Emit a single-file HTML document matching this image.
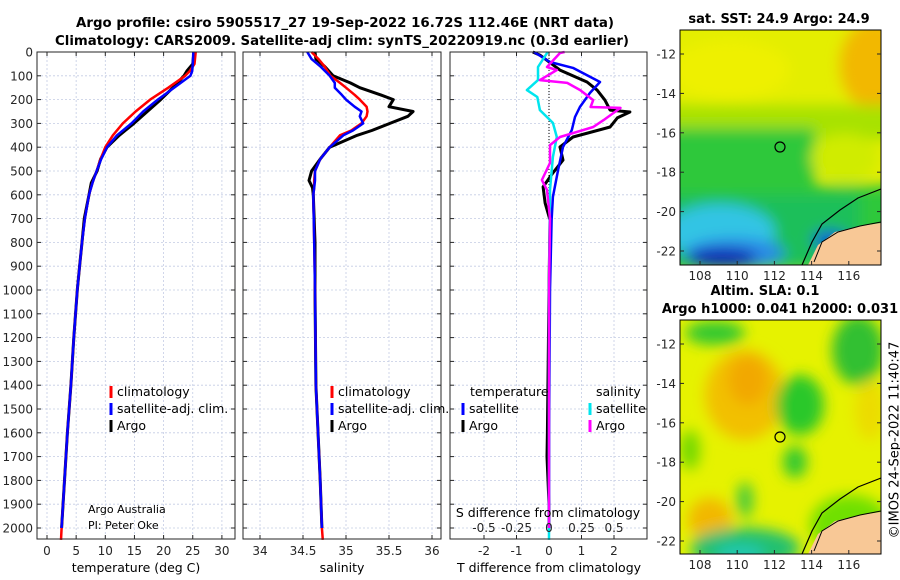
<!DOCTYPE html>
<html><head><meta charset="utf-8">
<style>
html,body{margin:0;padding:0;background:#fff;}
svg{display:block;font-family:"DejaVu Sans","Liberation Sans",sans-serif;}
.tk{font-size:12px;fill:#262626;}
.lg{font-size:12.5px;fill:#000;}
.ttl{font-size:13px;font-weight:bold;fill:#000;}
</style></head>
<body>
<svg id="fig" width="900" height="580" viewBox="0 0 900 580" xmlns="http://www.w3.org/2000/svg">
<defs>
<filter id="blur6" x="-20%" y="-20%" width="140%" height="140%"><feGaussianBlur stdDeviation="7"/></filter>
<clipPath id="clipM1"><rect x="680" y="30" width="201" height="235"/></clipPath>
<clipPath id="clipM2"><rect x="680" y="320" width="201" height="234"/></clipPath>
</defs>
<text class="ttl" x="345" y="27" text-anchor="middle" textLength="538" lengthAdjust="spacingAndGlyphs">Argo profile: csiro 5905517_27 19-Sep-2022 16.72S 112.46E (NRT data)</text>
<text class="ttl" x="342" y="45" text-anchor="middle" textLength="574" lengthAdjust="spacingAndGlyphs">Climatology: CARS2009. Satellite-adj clim: synTS_20220919.nc (0.3d earlier)</text>
<g id="panels"></g>

<g>
<text class="ttl" x="779" y="23" text-anchor="middle">sat. SST: 24.9 Argo: 24.9</text>
<g clip-path="url(#clipM1)">
<rect x="680" y="30" width="201" height="235" fill="#e4ee00"/>
<g filter="url(#blur6)">
<ellipse cx="875" cy="65" rx="35" ry="45" fill="#f2b800"/>
<ellipse cx="730" cy="70" rx="60" ry="30" fill="#eef000"/>
<rect x="660" y="105" width="240" height="35" fill="#a8e200"/>
<rect x="660" y="128" width="155" height="80" fill="#2ec83a"/>
<rect x="810" y="185" width="90" height="55" fill="#2ec83a"/>
<ellipse cx="845" cy="158" rx="34" ry="24" fill="#d0ec00"/>
<rect x="660" y="195" width="200" height="75" fill="#1cbf5a"/>
<ellipse cx="720" cy="232" rx="55" ry="28" fill="#30c4e4"/>
<ellipse cx="735" cy="253" rx="50" ry="15" fill="#2a8ae6"/>
<ellipse cx="722" cy="258" rx="35" ry="10" fill="#1024b0"/>
<ellipse cx="830" cy="240" rx="18" ry="10" fill="#1060d0"/>
</g>
<polygon points="808,265 818,245 835,232 860,226 881,223 881,265" fill="#f8c896"/>
<polyline points="802,265 812,242 822,224 840,210 858,198 881,189" fill="none" stroke="#000" stroke-width="1.2"/>
<polyline points="814,262 822,242 838,232 860,226 881,222" fill="none" stroke="#000" stroke-width="1"/>
</g>
<rect x="680" y="30" width="201" height="235" fill="none" stroke="#000" stroke-width="1"/>
<circle cx="780" cy="147" r="5" fill="none" stroke="#000" stroke-width="1.2"/>
<g id="m1ticks"></g>
</g>

<g>
<text class="ttl" x="765" y="295" text-anchor="middle">Altim. SLA: 0.1</text>
<text class="ttl" x="780" y="313" text-anchor="middle">Argo h1000: 0.041 h2000: 0.031</text>
<g clip-path="url(#clipM2)">
<rect x="680" y="320" width="201" height="234" fill="#e6f200"/>
<g filter="url(#blur6)">
<ellipse cx="745" cy="395" rx="40" ry="45" fill="#f2c000"/>
<ellipse cx="748" cy="380" rx="20" ry="25" fill="#f2a800"/>
<ellipse cx="715" cy="333" rx="30" ry="12" fill="#30c830"/>
<ellipse cx="858" cy="350" rx="26" ry="35" fill="#30c030"/>
<ellipse cx="870" cy="410" rx="15" ry="30" fill="#ecdc00"/>
<ellipse cx="800" cy="405" rx="24" ry="30" fill="#2cc82c"/>
<ellipse cx="795" cy="462" rx="12" ry="16" fill="#30c830"/>
<ellipse cx="710" cy="520" rx="22" ry="22" fill="#f2b800"/>
<ellipse cx="745" cy="548" rx="55" ry="20" fill="#20c070"/>
<ellipse cx="740" cy="554" rx="25" ry="10" fill="#20c8b0"/>
<ellipse cx="745" cy="500" rx="8" ry="18" fill="#40c840"/>
<ellipse cx="850" cy="525" rx="40" ry="30" fill="#70e000"/>
<ellipse cx="690" cy="450" rx="10" ry="20" fill="#70d800"/>
</g>
<polygon points="808,554 818,534 835,521 860,515 881,512 881,554" fill="#f8c896"/>
<polyline points="802,554 812,531 822,513 840,499 858,487 881,478" fill="none" stroke="#000" stroke-width="1.2"/>
<polyline points="814,551 822,531 838,521 860,515 881,511" fill="none" stroke="#000" stroke-width="1"/>
</g>
<rect x="680" y="320" width="201" height="234" fill="none" stroke="#000" stroke-width="1"/>
<circle cx="780" cy="437" r="5" fill="none" stroke="#000" stroke-width="1.2"/>
<g id="m2ticks"></g>
</g>
<text x="895" y="440" transform="rotate(-90 895 440)" text-anchor="middle" dominant-baseline="middle" style="font-size:13px" fill="#000">©IMOS 24-Sep-2022 11:40:47</text>
</svg>
<script>
const depthTicks = [0,100,200,300,400,500,600,700,800,900,1000,1100,1200,1300,1400,1500,1600,1700,1800,1900,2000];
const tempTicks = [0,5,10,15,20,25,30];
const salTicks = [34,34.5,35,35.5,36];
const salTickLabels = ["34","34.5","35","35.5","36"];
const tdiffTicks = [-2,-1,0,1,2];
const sdiffTicks = [-0.5,-0.25,0,0.25,0.5];
const sdiffTickLabels = ["-0.5","-0.25","0","0.25","0.5"];

const depthT = [0,50,80,100,150,200,250,300,350,400,450,500,550,600,700,800,900,1000,1200,1400,1600,1800,2000,2050];
const climTemp = [25.5,25.3,24.5,23.7,20.8,17.7,15.2,13.0,11.3,10.0,9.2,8.5,7.8,7.2,6.5,6.0,5.6,5.2,4.6,4.1,3.5,3.0,2.5,2.4];
const satTemp = [25.1,25.0,24.9,24.6,21.8,19.0,16.5,14.5,12.0,10.3,9.3,8.5,7.8,7.2,6.5,6.0,5.6,5.2,4.6,4.1,3.5,3.0,2.5,null];
const argoTemp = [25.2,25.0,24.0,23.5,21.6,19.5,17.2,14.9,12.4,10.3,9.2,8.6,7.6,7.2,6.4,6.0,5.6,5.2,4.6,4.1,3.5,3.0,2.5,null];

const depthS = [0,30,60,100,130,150,180,200,230,250,270,300,330,350,400,450,500,540,570,600,800,1000,1400,1800,2000,2050];
const climSal = [34.6,34.68,34.75,34.82,34.93,35.0,35.1,35.16,35.24,35.25,35.24,35.18,35.06,34.93,34.81,34.7,34.64,34.63,34.63,34.62,34.63,34.64,34.65,34.7,34.72,34.73];
const satSal = [34.55,34.6,34.7,34.81,34.87,34.87,34.95,35.0,35.1,35.18,35.16,35.2,35.08,34.97,34.81,34.7,34.64,34.64,34.63,34.62,34.63,34.64,34.65,34.7,34.72,null];
const argoSal = [34.64,34.65,34.75,34.85,35.05,35.16,35.4,35.55,35.5,35.78,35.72,35.51,35.3,35.13,34.81,34.7,34.6,34.57,34.61,34.62,34.64,34.64,34.65,34.7,34.72,null];

const depthSatTD = [0,42,67,126,172,231,273,328,399,496,609,706,1000,1500,2000];
const satTDiff = [-0.46,0.03,0.74,1.57,1.26,0.95,0.8,0.7,0.43,0.28,0.12,0.08,0.03,0.01,0];
const depthArgoTD = [0,13,76,126,160,202,244,252,277,315,357,399,454,508,567,634,706,1000,1600,1700,1800,1900,2000];
const argoTDiff = [-0.5,-0.28,0.34,1.17,1.48,1.72,1.88,2.49,2.1,1.88,0.74,0.34,0.43,0.12,-0.18,-0.12,0.03,0.0,-0.05,-0.06,-0.03,0,0];
const depthSatSD = [0,63,118,160,189,244,298,357,441,580,1000,2000,2050];
const satSDiff = [-0.01,-0.085,-0.085,-0.17,-0.09,-0.07,0.03,0.06,0.03,0.008,0,0,0];
const depthArgoSD = [0,4,63,76,118,130,160,202,231,235,286,315,357,391,466,538,580,700,1000,2000];
const argoSDiff = [0.12,0.085,-0.015,0.06,-0.07,0.14,0.24,0.34,0.32,0.55,0.42,0.34,0.085,0.008,0.008,-0.055,-0.015,0.008,0,0];

const mapLatTicks = [-12,-14,-16,-18,-20,-22];
const mapLonTicks = [108,110,112,114,116];

const TOP=52, BOT=539;
const yD = d => TOP + d*0.238;
const xT = v => 47 + v*5.83;
const xS = v => 260 + (v-34)*86;
const xDT = v => 549 + v*32.5;
const xDS = v => 549 + v*130;
const NS='http://www.w3.org/2000/svg';
const root=document.getElementById('panels');
function el(tag,attrs,parent){const e=document.createElementNS(NS,tag);for(const k in attrs)e.setAttribute(k,attrs[k]);(parent||root).appendChild(e);return e;}
function txt(s,attrs,parent){const e=el('text',attrs,parent);e.textContent=s;return e;}

function line(depths,vals,xf,color,w,name,parent){
  let d='';let pen=false;
  for(let i=0;i<depths.length;i++){
    if(vals[i]===null||vals[i]===undefined){pen=false;continue;}
    d+=(pen?'L':'M')+xf(vals[i]).toFixed(1)+','+yD(depths[i]).toFixed(1);pen=true;
  }
  const p=el('path',{d:d,fill:'none',stroke:color,'stroke-width':w,'stroke-linejoin':'round'},parent);
  
  
  return p;
}

const panels=[{x0:37,x1:235,name:'temperature-panel'},{x0:243,x1:441,name:'salinity-panel'},{x0:450,x1:647,name:'difference-panel'}];
const grids=[tempTicks.map(xT),salTicks.map(xS),tdiffTicks.map(xDT)];
panels.forEach((p,i)=>{
  const g=el('g',{});
  
  
  p.g=g;
  depthTicks.forEach(d=>{el('line',{x1:p.x0,x2:p.x1,y1:yD(d),y2:yD(d),stroke:'#c4cce4','stroke-width':0.8,'stroke-dasharray':'2,2'},g);
    el('line',{x1:p.x0,x2:p.x0+4,y1:yD(d),y2:yD(d),stroke:'#262626','stroke-width':1},g);
    el('line',{x1:p.x1-4,x2:p.x1,y1:yD(d),y2:yD(d),stroke:'#262626','stroke-width':1},g);});
  grids[i].forEach(x=>{el('line',{x1:x,x2:x,y1:TOP,y2:BOT,stroke:'#c4cce4','stroke-width':0.8,'stroke-dasharray':'2,2'},g);
    el('line',{x1:x,x2:x,y1:BOT-4,y2:BOT,stroke:'#262626'},g);el('line',{x1:x,x2:x,y1:TOP,y2:TOP+4,stroke:'#262626'},g);});
});
depthTicks.forEach(d=>{const t=txt(String(d),{x:33,y:yD(d)+4.5,'text-anchor':'end',class:'tk'});
  
  });
tempTicks.forEach(v=>{const t=txt(String(v),{x:xT(v),y:555,'text-anchor':'middle',class:'tk'});
  
  });
salTicks.forEach((v,i)=>{const t=txt(salTickLabels[i],{x:xS(v),y:555,'text-anchor':'middle',class:'tk'});
  
  });
tdiffTicks.forEach(v=>{const t=txt(String(v),{x:xDT(v),y:555,'text-anchor':'middle',class:'tk'});
  
  });
sdiffTicks.forEach((v,i)=>{const t=txt(sdiffTickLabels[i],{x:xDS(v),y:532,'text-anchor':'middle',class:'tk'});
  
  });
[['temperature (deg C)',136,'x-axis-title-temperature'],['salinity',342,'x-axis-title-salinity'],['T difference from climatology',549,'x-axis-title-tdiff']].forEach(a=>{
  const t=txt(a[0],{x:a[1],y:572,'text-anchor':'middle',class:'lg'});
  
  });
{const t=txt('S difference from climatology',{x:548,y:517,'text-anchor':'middle',class:'lg'});
 
 }

const g1=panels[0].g,g2=panels[1].g,g3=panels[2].g;
line(depthT,argoTemp,xT,'#000',3,'argo-temperature-line',g1);
line(depthT,climTemp,xT,'#ff0000',2.5,'climatology-temperature-line',g1);
line(depthT,satTemp,xT,'#0000ff',2.5,'satellite-temperature-line',g1);
line(depthS,argoSal,xS,'#000',3,'argo-salinity-line',g2);
line(depthS,climSal,xS,'#ff0000',2.5,'climatology-salinity-line',g2);
line(depthS,satSal,xS,'#0000ff',2.5,'satellite-salinity-line',g2);
el('line',{x1:549,x2:549,y1:TOP,y2:BOT,stroke:'#000','stroke-width':1,'stroke-dasharray':'1,2'},g3);
line(depthArgoTD,argoTDiff,xDT,'#000',3,'argo-tdiff-line',g3);
line(depthSatTD,satTDiff,xDT,'#0000ff',2.5,'satellite-tdiff-line',g3);
line(depthSatSD,satSDiff,xDS,'#00e5ee',2.5,'satellite-sdiff-line',g3);
line(depthArgoSD,argoSDiff,xDS,'#ff00ff',2.5,'argo-sdiff-line',g3);

panels.forEach(p=>el('rect',{x:p.x0,y:TOP,width:p.x1-p.x0,height:BOT-TOP,fill:'none',stroke:'#262626','stroke-width':1},p.g));

function legend(x,y,color,label,g){
  el('rect',{x:x-1.5,y:y-10,width:3,height:12,fill:color},g);
  const t=txt(label,{x:x+6,y:y,class:'lg'},g);
  
  
}
legend(111,396,'#ff0000','climatology',g1);legend(111,413,'#0000ff','satellite-adj. clim.',g1);legend(111,430,'#000','Argo',g1);
legend(332,396,'#ff0000','climatology',g2);legend(332,413,'#0000ff','satellite-adj. clim.',g2);legend(332,430,'#000','Argo',g2);
{const t=txt('temperature',{x:470,y:396,class:'lg'},g3);}
{const t=txt('salinity',{x:596,y:396,class:'lg'},g3);}
legend(463,413,'#0000ff','satellite',g3);legend(463,430,'#000','Argo',g3);
legend(590,413,'#00e5ee','satellite',g3);legend(590,430,'#ff00ff','Argo',g3);
{const t=txt('Argo Australia',{x:88,y:513,style:'font-size:11px'},g1);}
{const t=txt('PI: Peter Oke',{x:88,y:529,style:'font-size:11px'},g1);}

function mapTicks(gid,top,lat12,bottomY){
  const g=document.getElementById(gid);
  mapLatTicks.forEach(l=>{const y=lat12+(-12-l)*19.7;
    el('line',{x1:680,x2:684,y1:y,y2:y,stroke:'#262626'},g);el('line',{x1:877,x2:881,y1:y,y2:y,stroke:'#262626'},g);
    const t=txt(String(l),{x:676,y:y+4.5,'text-anchor':'end',class:'tk'},g);
    
    });
  mapLonTicks.forEach(l=>{const x=700+(l-108)*18.6;
    el('line',{x1:x,x2:x,y1:bottomY-4,y2:bottomY,stroke:'#262626'},g);
    const t=txt(String(l),{x:x,y:bottomY+15,'text-anchor':'middle',class:'tk'},g);
    
    });
}
mapTicks('m1ticks',30,54,265);
mapTicks('m2ticks',320,344,554);
</script>
</body></html>
